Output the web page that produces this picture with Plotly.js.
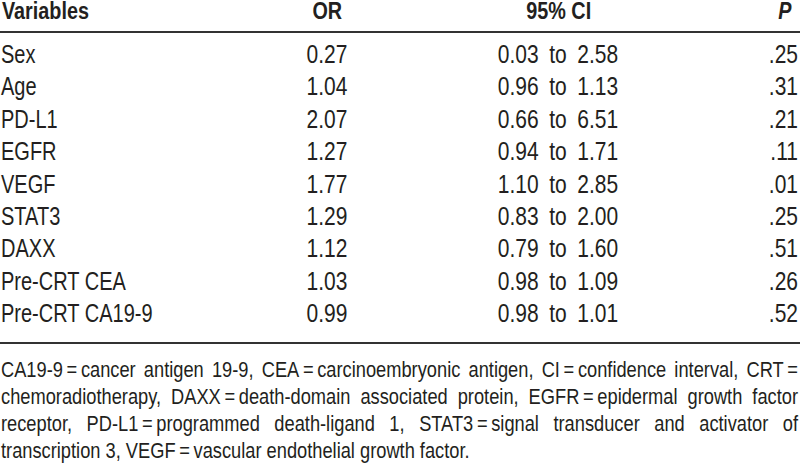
<!DOCTYPE html>
<html>
<head>
<meta charset="utf-8">
<script src="https://cdn.plot.ly/plotly-3.0.1.min.js"></script>
<style>
  html, body { margin: 0; padding: 0; background: #fff; }
  #chart { width: 800px; height: 469px; }
</style>
</head>
<body>
<div id="chart"></div>
<script>
// ---- data ----
const headers = ["Variables", "OR", "95% CI", "P"];
const variables = ["Sex", "Age", "PD-L1", "EGFR", "VEGF", "STAT3", "DAXX", "Pre-CRT CEA", "Pre-CRT CA19-9"];
const oddsRatios = [0.27, 1.04, 2.07, 1.27, 1.77, 1.29, 1.12, 1.03, 0.99];
const ciLower = [0.03, 0.96, 0.66, 0.94, 1.10, 0.83, 0.79, 0.98, 0.98];
const ciUpper = [2.58, 1.13, 6.51, 1.71, 2.85, 2.00, 1.60, 1.09, 1.01];
const pValues = [".25", ".31", ".21", ".11", ".01", ".25", ".51", ".26", ".52"];
const footnoteLines = [
  "CA19-9\u2009=\u2009cancer antigen 19-9, CEA\u2009=\u2009carcinoembryonic antigen, CI\u2009=\u2009confidence interval, CRT\u2009=",
  "chemoradiotherapy, DAXX\u2009=\u2009death-domain associated protein, EGFR\u2009=\u2009epidermal growth factor",
  "receptor, PD-L1\u2009=\u2009programmed death-ligand 1, STAT3\u2009=\u2009signal transducer and activator of",
  "transcription 3, VEGF\u2009=\u2009vascular endothelial growth factor."
];

// ---- layout / style constants ----
const W = 800, H = 469;
const FONT = '"Liberation Sans", Arial, sans-serif';
const COND = { text: 0.80, num: 0.84, head: 0.86, foot: 0.83 };  // horizontal condensing (narrow face look)
const TXT = '#231f20';
const colX = { variables: 1, or: 327, ci: 558, p: 798, pHead: 793 };
const firstRowPx = 56.5, rowStep = 32.44;
const headerPx = 11, headerLinePx = 32, bottomLinePx = 343;
const footPx = [369.5, 396.5, 423.5, 450.5];
const justifyRight = 798;
const py = p => 1 - p / H;

const rowIdx = variables.map((_, i) => i);
const yTop = -firstRowPx / rowStep;
const yBottom = (H - firstRowPx) / rowStep;

const cellFont = { family: FONT, size: 25, color: TXT };

function col(xpos, texts, pos) {
  return {
    type: 'scatter', mode: 'text',
    x: texts.map(() => xpos), y: rowIdx,
    text: texts, textposition: pos,
    textfont: cellFont, marker: { size: 1 },
    hoverinfo: 'skip', showlegend: false, cliponaxis: false
  };
}

const traces = [
  col(colX.variables, variables, 'middle right'),
  col(colX.or, oddsRatios.map(v => v.toFixed(2)), 'middle center'),
  col(colX.ci, ciLower.map((lo, i) => lo.toFixed(2) + '\u2002to\u2002' + ciUpper[i].toFixed(2)), 'middle center'),
  col(colX.p, pValues, 'middle left')
];
const traceCond = [COND.text, COND.num, COND.num, COND.num];

const headFont = { family: FONT, size: 23, color: TXT };
const annotations = [
  { text: '<b>' + headers[0] + '</b>', x: colX.variables / W, xanchor: 'left', align: 'left' },
  { text: '<b>' + headers[1] + '</b>', x: colX.or / W, xanchor: 'center', align: 'center' },
  { text: '<b>' + headers[2] + '</b>', x: colX.ci / W, xanchor: 'center', align: 'center' },
  { text: '<b><i>' + headers[3] + '</i></b>', x: colX.pHead / W, xanchor: 'right', align: 'right' }
].map(a => Object.assign(a, {
  xref: 'paper', yref: 'paper', y: py(headerPx), yanchor: 'middle',
  showarrow: false, font: headFont, borderpad: 0
}));

footnoteLines.forEach((t, i) => {
  annotations.push({
    text: t, xref: 'paper', yref: 'paper', x: 0, xanchor: 'left', align: 'left',
    y: py(footPx[i]), yanchor: 'middle', showarrow: false, borderpad: 0,
    font: { family: FONT, size: 22, color: TXT }
  });
});

const lineStyle = { color: '#333', width: 2 };
const shapes = [headerLinePx, bottomLinePx].map(p => ({
  type: 'line', xref: 'paper', yref: 'paper', x0: 0, x1: 1, y0: py(p), y1: py(p), line: lineStyle
}));

const layout = {
  width: W, height: H,
  margin: { l: 0, r: 0, t: 0, b: 0 },
  paper_bgcolor: '#fff', plot_bgcolor: '#fff',
  xaxis: { range: [0, W], visible: false, fixedrange: true },
  yaxis: { range: [yBottom, yTop], visible: false, fixedrange: true },
  annotations: annotations, shapes: shapes,
  hovermode: false, showlegend: false
};

function condense(el, f) {
  const n = el.getComputedTextLength();
  if (n > 0) {
    el.setAttribute('textLength', (n * f).toFixed(2));
    el.setAttribute('lengthAdjust', 'spacingAndGlyphs');
  }
}

Plotly.newPlot('chart', traces, layout, { displayModeBar: false, staticPlot: true }).then(() => {
  const root = document.getElementById('chart');
  const rootLeft = root.getBoundingClientRect().left;
  // table body columns
  root.querySelectorAll('.scatterlayer .trace').forEach((tr, k) => {
    tr.querySelectorAll('text').forEach(el => condense(el, traceCond[k]));
  });
  // header
  for (let i = 0; i < headers.length; i++) {
    const el = root.querySelector('.annotation[data-index="' + i + '"] text.annotation-text');
    if (el) condense(el, COND.head);
  }
  // footnote: justify all lines but the last
  for (let i = 0; i < footnoteLines.length; i++) {
    const el = root.querySelector('.annotation[data-index="' + (headers.length + i) + '"] text.annotation-text');
    if (!el) continue;
    if (i === footnoteLines.length - 1) { condense(el, COND.foot); continue; }
    const n = el.getComputedTextLength();
    const left = el.getBoundingClientRect().left - rootLeft;
    const target = justifyRight - left;
    const spaces = (footnoteLines[i].match(/ /g) || []).length;
    const ws = (target / COND.foot - n) / spaces;
    if (ws > 0) {
      el.style.wordSpacing = ws.toFixed(2) + 'px';
      el.setAttribute('textLength', target.toFixed(2));
      el.setAttribute('lengthAdjust', 'spacingAndGlyphs');
    } else {
      condense(el, COND.foot);
    }
  }
});
</script>
</body>
</html>
